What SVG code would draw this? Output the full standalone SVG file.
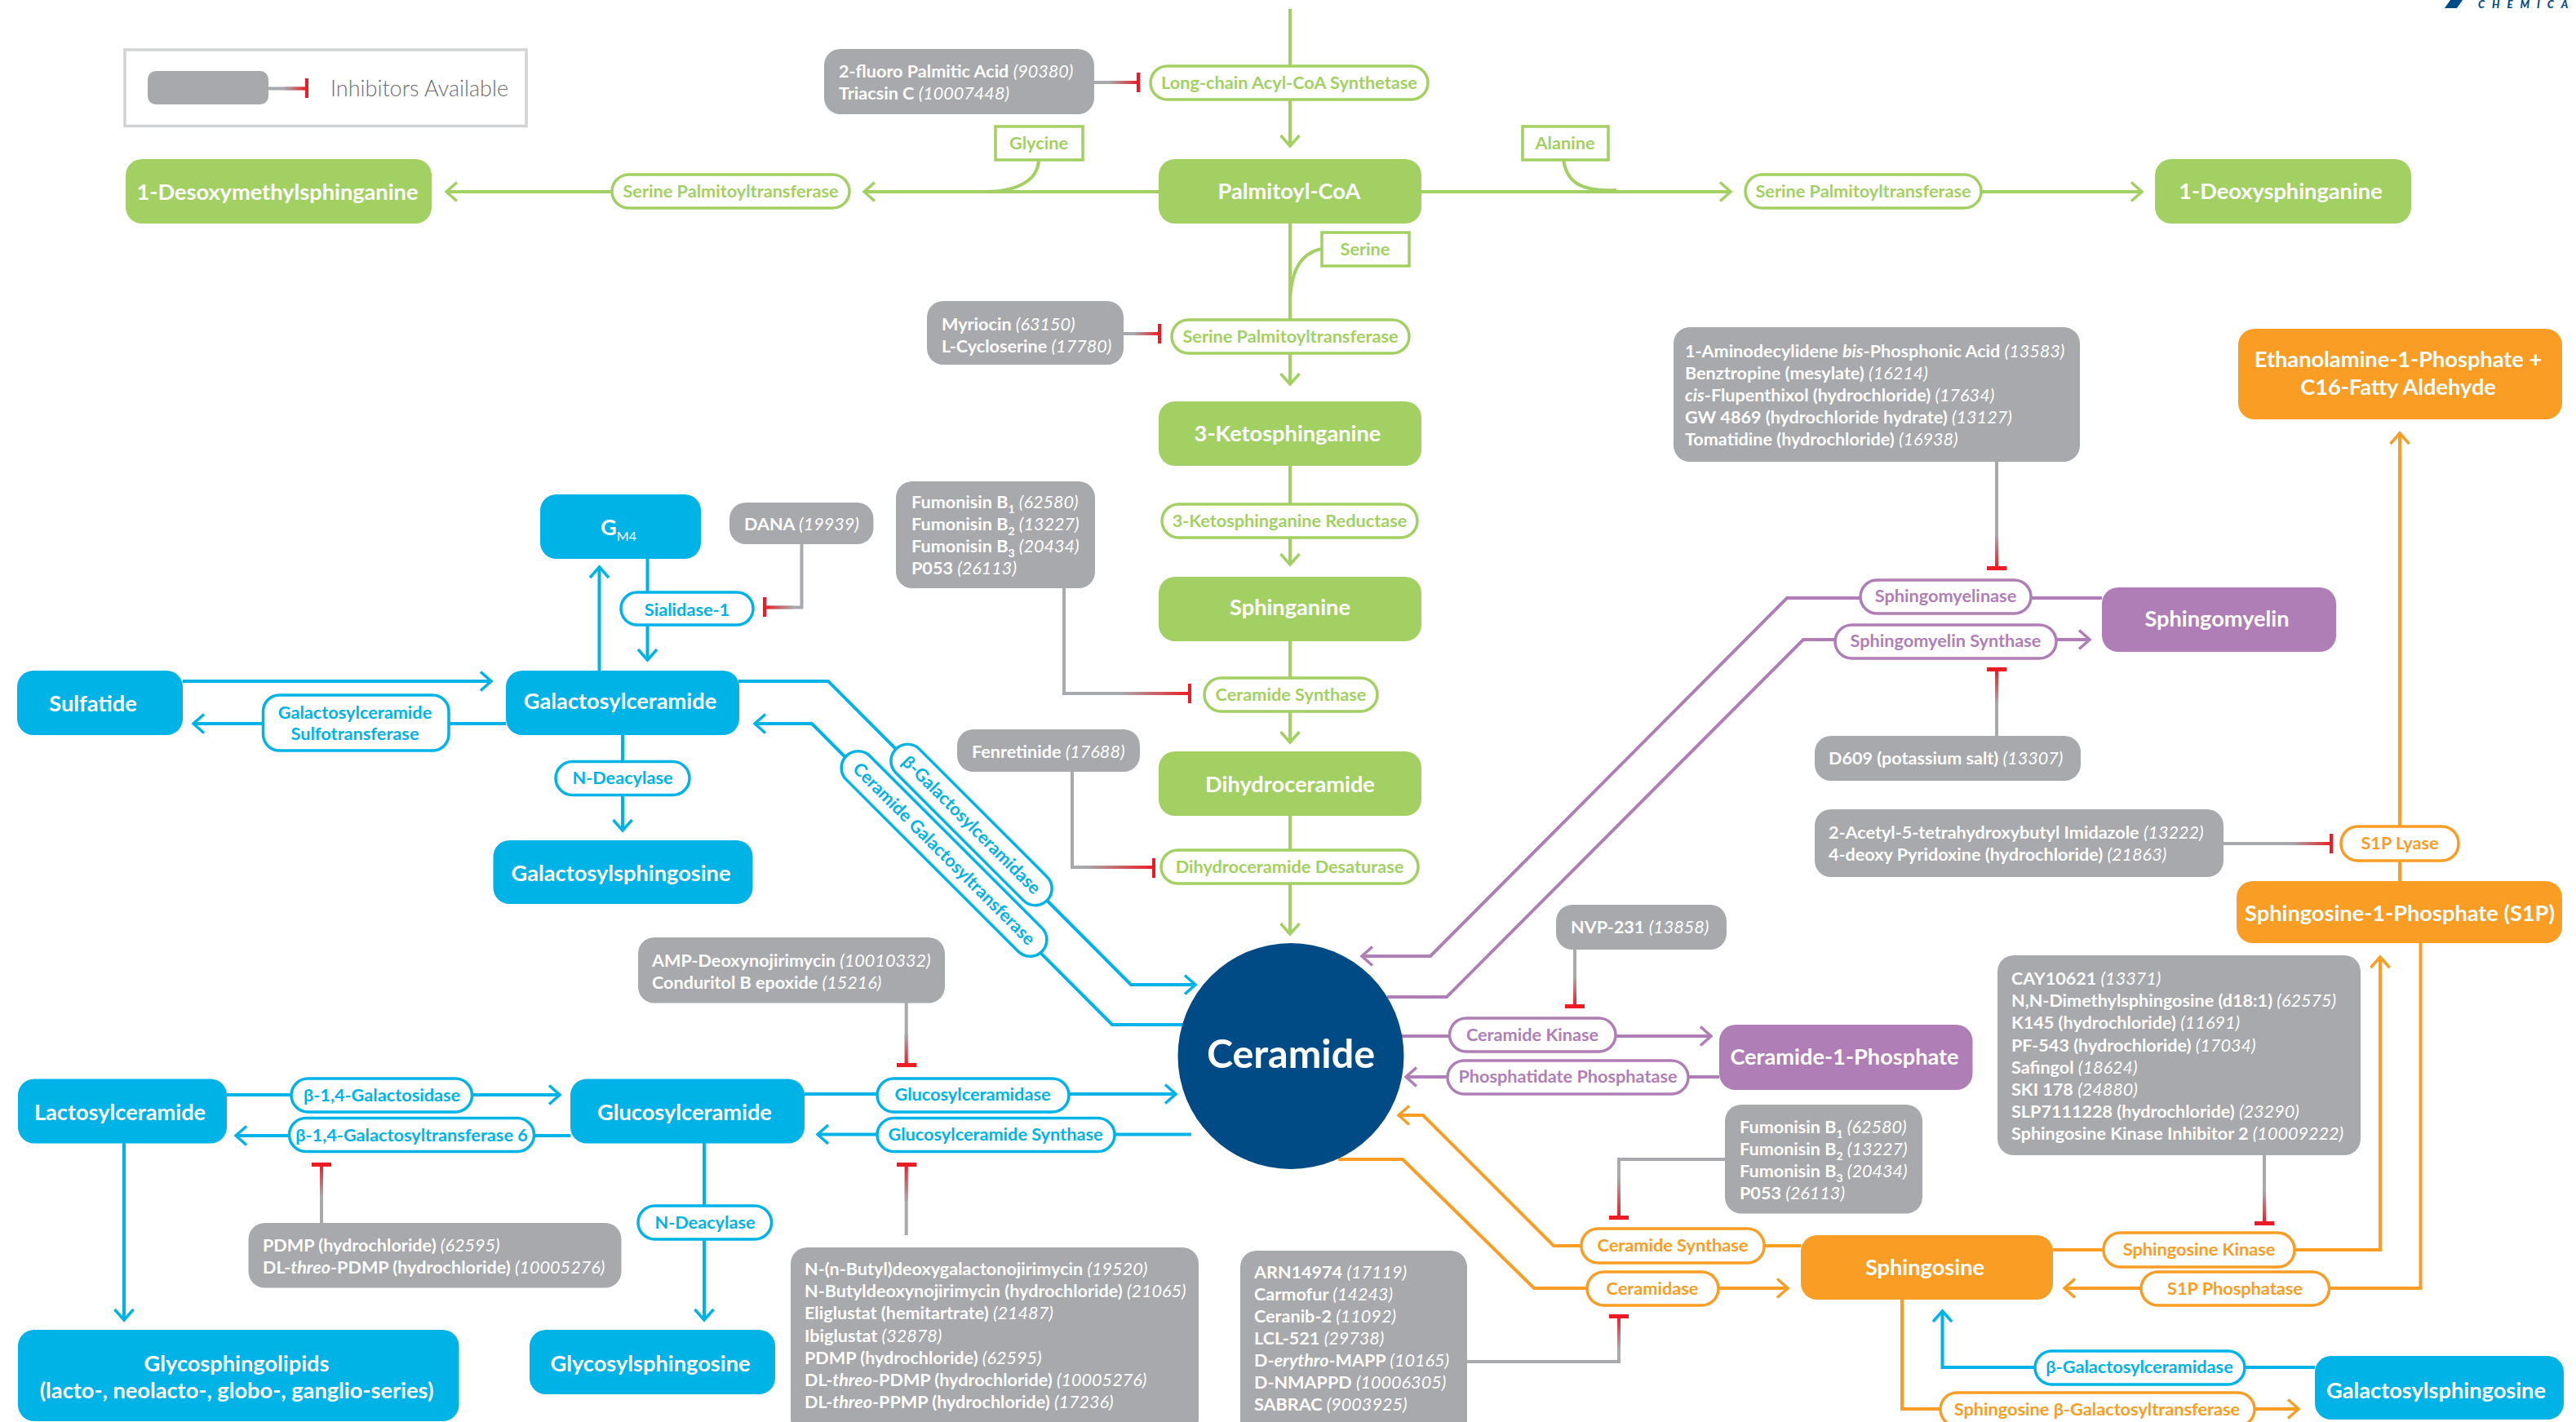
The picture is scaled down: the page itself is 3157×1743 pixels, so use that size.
<svg xmlns="http://www.w3.org/2000/svg" width="3157" height="1743" viewBox="0 0 3157 1743">
<style>
text{font-family:Lato,"Noto Sans",sans-serif}
.n{font-size:27.200px;font-weight:700;fill:#fff;text-anchor:middle}
.i{font-size:21.600px;font-weight:700;fill:#fff}
.i .c,.c{font-weight:400;font-style:italic}
.s{font-size:14px}
.p{font-size:21.700px;font-weight:700;text-anchor:middle}
.P{fill:#fff;stroke-width:3.5}
.gr{fill:#a3d063}.bl{fill:#00b3e6}.or{fill:#f99d25}.pu{fill:#b07eb6}.gy{fill:#a7a9ac}
.tg{fill:#a3d063}.tb{fill:#00b3e6}.to{fill:#f99d25}.tu{fill:#b07eb6}
.Pg{stroke:#a3d063}.Pb{stroke:#00b3e6}.Po{stroke:#f99d25}.Pu{stroke:#b07eb6}
.l{fill:none;stroke-width:4}
.lg{stroke:#a3d063;marker-end:url(#mg)}.lb{stroke:#00b3e6;marker-end:url(#mb)}.lo{stroke:#f99d25;marker-end:url(#mo)}.lu{stroke:#b07eb6;marker-end:url(#mu)}
.x{marker-end:none}
.ih{fill:none;stroke:#a7a9ac;stroke-width:4}
.t{fill:#ed1c24}
</style>
<defs>
<marker id="mg" markerUnits="userSpaceOnUse" markerWidth="30" markerHeight="30" viewBox="-16 -15 20 30" refX="0" refY="0" orient="auto"><path d="M-13,-11.500L0,0L-13,11.500" fill="none" stroke="#a3d063" stroke-width="3.500"/></marker>
<marker id="mb" markerUnits="userSpaceOnUse" markerWidth="30" markerHeight="30" viewBox="-16 -15 20 30" refX="0" refY="0" orient="auto"><path d="M-13,-11.500L0,0L-13,11.500" fill="none" stroke="#00b3e6" stroke-width="3.500"/></marker>
<marker id="mo" markerUnits="userSpaceOnUse" markerWidth="30" markerHeight="30" viewBox="-16 -15 20 30" refX="0" refY="0" orient="auto"><path d="M-13,-11.500L0,0L-13,11.500" fill="none" stroke="#f99d25" stroke-width="3.500"/></marker>
<marker id="mu" markerUnits="userSpaceOnUse" markerWidth="30" markerHeight="30" viewBox="-16 -15 20 30" refX="0" refY="0" orient="auto"><path d="M-13,-11.500L0,0L-13,11.500" fill="none" stroke="#b07eb6" stroke-width="3.500"/></marker>
<linearGradient id="gH" x1="0" x2="1" y1="0" y2="0"><stop offset="0" stop-color="#a7a9ac"/><stop offset="1" stop-color="#ed1c24"/></linearGradient>
<linearGradient id="gL" x1="1" x2="0" y1="0" y2="0"><stop offset="0" stop-color="#a7a9ac"/><stop offset="1" stop-color="#ed1c24"/></linearGradient>
<linearGradient id="gV" x1="0" x2="0" y1="0" y2="1"><stop offset="0" stop-color="#a7a9ac"/><stop offset="1" stop-color="#ed1c24"/></linearGradient>
<linearGradient id="gU" x1="0" x2="0" y1="1" y2="0"><stop offset="0" stop-color="#a7a9ac"/><stop offset="1" stop-color="#ed1c24"/></linearGradient>
</defs>

<g id="connectors">
<g id="green-connectors">
<path class="l lg" d="M1581,11V179"/>
<path class="l lg" d="M1420,235H1059"/>
<path class="l lg" d="M750,235H547"/>
<path class="l lg x" d="M1273,196C1272,222 1245,235 1207,235"/>
<path class="l lg" d="M1742,235H2121"/>
<path class="l lg" d="M2428,235H2625"/>
<path class="l lg x" d="M1916,196C1920,222 1935,235 1981,233"/>
<path class="l lg" d="M1581,274V471"/>
<path class="l lg x" d="M1620,305C1595,310 1581,330 1581,375"/>
<path class="l lg" d="M1581,571V692"/>
<path class="l lg" d="M1581,786V910"/>
<path class="l lg" d="M1581,1000V1145"/>
</g>
<g id="blue-connectors">
<path class="l lb" d="M793.500,685V809"/>
<path class="l lb" d="M734.500,822V695"/>
<path class="l lb" d="M224,835H602"/>
<path class="l lb" d="M620,887H237"/>
<path class="l lb" d="M763,900V1018"/>
<path class="l lb" d="M905,835H1015L1386,1207H1465"/>
<path class="l lb" d="M1450,1256H1363L995,887H925"/>
<path class="l lb" d="M278,1342H686"/>
<path class="l lb" d="M699,1392H289"/>
<path class="l lb" d="M986,1341H1441"/>
<path class="l lb" d="M1460,1390.500H1002"/>
<path class="l lb" d="M152,1401V1618"/>
<path class="l lb" d="M863,1401V1618"/>
<path class="l lb" d="M2837,1676H2380.500V1607"/>
</g>
<g id="purple-connectors">
<path class="l lu" d="M2576,733H2190L1753,1172H1669"/>
<path class="l lu" d="M1700,1222H1773L2210,784H2561"/>
<path class="l lu" d="M1710,1270H2097"/>
<path class="l lu" d="M2107,1320H1723"/>
</g>
<g id="orange-connectors">
<path class="l lo" d="M2207,1527H1904L1744,1367H1714"/>
<path class="l lo" d="M1640,1421H1719L1880,1579H2191"/>
<path class="l lo" d="M2516,1532H2917V1173"/>
<path class="l lo" d="M2966.500,1156V1579H2530"/>
<path class="l lo" d="M2941,1080V531"/>
<path class="l lo" d="M2331,1593V1727H2817"/>
</g>
<g id="inhibitor-connectors">
<path class="ih" d="M329,108.500H376"/><rect x="348" y="106.500" width="28" height="4" fill="url(#gH)"/><rect class="t" x="374" y="96" width="4" height="24"/>
<path class="ih" d="M1341,101H1395"/><rect x="1360" y="99" width="35" height="4" fill="url(#gH)"/><rect class="t" x="1393" y="89" width="4" height="24"/>
<path class="ih" d="M1377,409H1421"/><rect x="1390" y="407" width="31" height="4" fill="url(#gH)"/><rect class="t" x="1419" y="397" width="4" height="24"/>
<path class="ih" d="M982.500,667V744.500H937"/><rect x="937" y="742.500" width="35" height="4" fill="url(#gL)"/><rect class="t" x="935" y="732" width="4" height="24"/>
<path class="ih" d="M1304,720V850H1458"/><rect x="1375" y="848" width="83" height="4" fill="url(#gH)"/><rect class="t" x="1456" y="838" width="4" height="24"/>
<path class="ih" d="M1314,946V1063H1414"/><rect x="1330" y="1061" width="84" height="4" fill="url(#gH)"/><rect class="t" x="1412" y="1052" width="4" height="24"/>
<path class="ih" d="M1110.700,1229V1306"/><rect x="1108.700" y="1268" width="4" height="38" fill="url(#gV)"/><rect class="t" x="1099" y="1303" width="24" height="5"/>
<path class="ih" d="M1110.700,1514V1427"/><rect x="1108.700" y="1427" width="4" height="45" fill="url(#gU)"/><rect class="t" x="1099" y="1425" width="24" height="5"/>
<path class="ih" d="M394,1499V1427"/><rect x="392" y="1427" width="4" height="40" fill="url(#gU)"/><rect class="t" x="382" y="1425" width="24" height="5"/>
<path class="ih" d="M2447,566V697"/><rect x="2445" y="655" width="4" height="42" fill="url(#gV)"/><rect class="t" x="2435" y="694" width="24" height="5"/>
<path class="ih" d="M2447,902V821"/><rect x="2445" y="821" width="4" height="42" fill="url(#gU)"/><rect class="t" x="2435" y="818" width="24" height="5"/>
<path class="ih" d="M2725,1034H2857"/><rect x="2810" y="1032" width="47" height="4" fill="url(#gH)"/><rect class="t" x="2855" y="1022" width="4" height="24"/>
<path class="ih" d="M1930,1164V1233"/><rect x="1928" y="1198" width="4" height="35" fill="url(#gV)"/><rect class="t" x="1918" y="1231" width="24" height="5"/>
<path class="ih" d="M2114,1421H1984V1492"/><rect x="1982" y="1445" width="4" height="47" fill="url(#gV)"/><rect class="t" x="1972" y="1490" width="24" height="5"/>
<path class="ih" d="M1798,1669H1984V1613"/><rect x="1982" y="1613" width="4" height="40" fill="url(#gU)"/><rect class="t" x="1972" y="1611" width="24" height="5"/>
<path class="ih" d="M2775,1416V1499"/><rect x="2773" y="1460" width="4" height="39" fill="url(#gV)"/><rect class="t" x="2763" y="1497" width="24" height="5"/>
</g>
</g>

<g id="legend">
<rect x="153" y="61" width="492" height="93.500" fill="none" stroke="#d1d3d4" stroke-width="3.500"/>
<rect class="gy" x="181" y="87" width="148" height="41" rx="10"/>
<text x="405" y="117.500" font-size="27" font-weight="300" fill="#6d6e71">Inhibitors Available</text>
</g>

<g id="logo">
<path d="M3003,0H3018L3011,10H2996Z" fill="#004b85"/>
<text x="3037" y="10" font-size="13" font-weight="900" font-style="italic" fill="#004b85" letter-spacing="9">CHEMICA</text>
</g>

<g id="n-palmitoyl-coa"><rect class="gr" x="1420" y="195" width="322" height="79" rx="20"/><text class="n" x="1580" y="244">Palmitoyl-CoA</text></g>
<g id="n-desoxymethylsphinganine"><rect class="gr" x="154" y="195" width="375" height="79" rx="20"/><text class="n" x="340" y="245">1-Desoxymethylsphinganine</text></g>
<g id="n-deoxysphinganine"><rect class="gr" x="2641" y="195" width="314" height="79" rx="20"/><text class="n" x="2795" y="244">1-Deoxysphinganine</text></g>
<g id="n-ketosphinganine"><rect class="gr" x="1420" y="492" width="322" height="79" rx="20"/><text class="n" x="1578" y="541">3-Ketosphinganine</text></g>
<g id="n-sphinganine"><rect class="gr" x="1420" y="707" width="322" height="79" rx="20"/><text class="n" x="1581" y="754">Sphinganine</text></g>
<g id="n-dihydroceramide"><rect class="gr" x="1420" y="921" width="322" height="79" rx="20"/><text class="n" x="1581" y="971">Dihydroceramide</text></g>

<g id="n-gm4"><rect class="bl" x="662" y="606" width="197" height="79" rx="20"/><text class="n" x="758" y="656">G<tspan font-size="16" dy="7" font-weight="400">M4</tspan></text></g>
<g id="n-sulfatide"><rect class="bl" x="21" y="822" width="203" height="79" rx="20"/><text class="n" x="114" y="872">Sulfatide</text></g>
<g id="n-galactosylceramide"><rect class="bl" x="620" y="822" width="286" height="79" rx="20"/><text class="n" x="760" y="869">Galactosylceramide</text></g>
<g id="n-galactosylsphingosine-1"><rect class="bl" x="604.500" y="1030" width="318" height="78" rx="20"/><text class="n" x="761" y="1080">Galactosylsphingosine</text></g>
<g id="n-lactosylceramide"><rect class="bl" x="22" y="1322.500" width="256" height="79" rx="20"/><text class="n" x="147" y="1373">Lactosylceramide</text></g>
<g id="n-glucosylceramide"><rect class="bl" x="699" y="1322.500" width="287" height="79" rx="20"/><text class="n" x="839" y="1373">Glucosylceramide</text></g>
<g id="n-glycosphingolipids"><rect class="bl" x="22" y="1630" width="540.500" height="112" rx="20"/><text class="n" x="290" y="1681">Glycosphingolipids<tspan x="290" dy="33">(lacto-, neolacto-, globo-, ganglio-series)</tspan></text></g>
<g id="n-glycosylsphingosine"><rect class="bl" x="649" y="1630" width="301" height="79" rx="20"/><text class="n" x="797" y="1681">Glycosylsphingosine</text></g>
<g id="n-galactosylsphingosine-2"><rect class="bl" x="2837" y="1662" width="305" height="78" rx="20"/><text class="n" x="2985.500" y="1714">Galactosylsphingosine</text></g>

<g id="n-ceramide"><circle cx="1582" cy="1294.500" r="138.500" fill="#004b85"/><text x="1582" y="1309" font-size="48.500" font-weight="700" fill="#fff" text-anchor="middle">Ceramide</text></g>

<g id="n-sphingomyelin"><rect class="pu" x="2576" y="720" width="287" height="79" rx="20"/><text class="n" x="2717" y="768">Sphingomyelin</text></g>
<g id="n-ceramide-1-phosphate"><rect class="pu" x="2107" y="1256" width="310.500" height="80" rx="20"/><text class="n" x="2260.500" y="1305">Ceramide-1-Phosphate</text></g>

<g id="n-ethanolamine"><rect class="or" x="2743" y="403" width="397" height="111" rx="20"/><text class="n" x="2939" y="450">Ethanolamine-1-Phosphate +<tspan x="2939" dy="33.500">C16-Fatty Aldehyde</tspan></text></g>
<g id="n-s1p"><rect class="or" x="2741" y="1080" width="399" height="76" rx="20"/><text class="n" x="2941" y="1129">Sphingosine-1-Phosphate (S1P)</text></g>
<g id="n-sphingosine"><rect class="or" x="2207" y="1514" width="309" height="79" rx="20"/><text class="n" x="2359" y="1563">Sphingosine</text></g>

<g id="e-lcacs"><rect class="P Pg" x="1410" y="81" width="340" height="41" rx="20.500"/><text class="p tg" x="1580" y="109">Long-chain Acyl-CoA Synthetase</text></g>
<g id="e-spt-1"><rect class="P Pg" x="750" y="214" width="291" height="41" rx="20.500"/><text class="p tg" x="895.500" y="242">Serine Palmitoyltransferase</text></g>
<g id="e-spt-2"><rect class="P Pg" x="2139" y="214" width="289" height="41" rx="20.500"/><text class="p tg" x="2283.500" y="242">Serine Palmitoyltransferase</text></g>
<g id="e-spt-3"><rect class="P Pg" x="1436" y="392" width="291" height="41" rx="20.500"/><text class="p tg" x="1581.500" y="420">Serine Palmitoyltransferase</text></g>
<g id="e-ksr"><rect class="P Pg" x="1424" y="618" width="313" height="41" rx="20.500"/><text class="p tg" x="1580.500" y="646">3-Ketosphinganine Reductase</text></g>
<g id="e-cers-1"><rect class="P Pg" x="1476" y="831" width="212" height="41" rx="20.500"/><text class="p tg" x="1582" y="859">Ceramide Synthase</text></g>
<g id="e-des"><rect class="P Pg" x="1423" y="1042" width="315" height="41" rx="20.500"/><text class="p tg" x="1580.500" y="1070">Dihydroceramide Desaturase</text></g>
<g id="m-glycine"><rect fill="#fff" stroke="#a3d063" stroke-width="3.500" x="1220" y="155" width="107" height="41"/><text class="p tg" x="1273" y="183">Glycine</text></g>
<g id="m-alanine"><rect fill="#fff" stroke="#a3d063" stroke-width="3.500" x="1866" y="155" width="105" height="41"/><text class="p tg" x="1918" y="183">Alanine</text></g>
<g id="m-serine"><rect fill="#fff" stroke="#a3d063" stroke-width="3.500" x="1620" y="285" width="107" height="41"/><text class="p tg" x="1673" y="313">Serine</text></g>

<g id="e-sialidase"><rect class="P Pb" x="761" y="726" width="162" height="40" rx="20"/><text class="p tb" x="842" y="755">Sialidase-1</text></g>
<g id="e-galcer-sulfo"><rect class="P Pb" x="322.500" y="852" width="227.500" height="68" rx="20"/><text class="p tb" x="435" y="881">Galactosylceramide<tspan x="435" dy="26">Sulfotransferase</tspan></text></g>
<g id="e-ndeacylase-1"><rect class="P Pb" x="681" y="933.500" width="164" height="41" rx="20.500"/><text class="p tb" x="763" y="961">N-Deacylase</text></g>
<g id="e-bgalcerase-1" transform="rotate(45 1190.500 1011)"><rect class="P Pb" x="1059.500" y="990.500" width="262" height="41" rx="20.500"/><text class="p tb" x="1190.500" y="1018.500">β-Galactosylceramidase</text></g>
<g id="e-cgt" transform="rotate(45 1157 1046.500)"><rect class="P Pb" x="987.500" y="1026" width="339" height="41" rx="20.500"/><text class="p tb" x="1157" y="1054">Ceramide Galactosyltransferase</text></g>
<g id="e-gal"><rect class="P Pb" x="357" y="1322" width="221.500" height="41" rx="20.500"/><text class="p tb" x="468" y="1350">β-1,4-Galactosidase</text></g>
<g id="e-gt6"><rect class="P Pb" x="354.500" y="1370.500" width="300" height="41" rx="20.500"/><text class="p tb" x="504.500" y="1398.500">β-1,4-Galactosyltransferase 6</text></g>
<g id="e-gcase"><rect class="P Pb" x="1075" y="1322" width="235" height="41" rx="20.500"/><text class="p tb" x="1192" y="1349">Glucosylceramidase</text></g>
<g id="e-gcs"><rect class="P Pb" x="1075" y="1370.500" width="291" height="41" rx="20.500"/><text class="p tb" x="1220" y="1398">Glucosylceramide Synthase</text></g>
<g id="e-ndeacylase-2"><rect class="P Pb" x="782" y="1478" width="163.500" height="41" rx="20.500"/><text class="p tb" x="864" y="1506">N-Deacylase</text></g>
<g id="e-bgalcerase-2"><rect class="P Pb" x="2494" y="1656" width="257" height="41" rx="20.500"/><text class="p tb" x="2622" y="1683">β-Galactosylceramidase</text></g>

<g id="e-smase"><rect class="P Pu" x="2280" y="711" width="209" height="41" rx="20.500"/><text class="p tu" x="2384.500" y="738">Sphingomyelinase</text></g>
<g id="e-sms"><rect class="P Pu" x="2249" y="766" width="271" height="41" rx="20.500"/><text class="p tu" x="2384.500" y="793">Sphingomyelin Synthase</text></g>
<g id="e-cerk"><rect class="P Pu" x="1776.500" y="1248" width="203.500" height="41" rx="20.500"/><text class="p tu" x="1878" y="1276">Ceramide Kinase</text></g>
<g id="e-pap"><rect class="P Pu" x="1774" y="1300" width="295" height="41" rx="20.500"/><text class="p tu" x="1921.500" y="1327">Phosphatidate Phosphatase</text></g>

<g id="e-s1pl"><rect class="P Po" x="2869" y="1013" width="144" height="42" rx="20.500"/><text class="p to" x="2941" y="1041">S1P Lyase</text></g>
<g id="e-cers-2"><rect class="P Po" x="1938" y="1506" width="224" height="42" rx="20.500"/><text class="p to" x="2050" y="1534">Ceramide Synthase</text></g>
<g id="e-cdase"><rect class="P Po" x="1945" y="1559" width="161" height="41" rx="20.500"/><text class="p to" x="2025" y="1587">Ceramidase</text></g>
<g id="e-sphk"><rect class="P Po" x="2578" y="1511" width="234" height="42" rx="20.500"/><text class="p to" x="2695" y="1539">Sphingosine Kinase</text></g>
<g id="e-s1pp"><rect class="P Po" x="2624" y="1559" width="230.500" height="41" rx="20.500"/><text class="p to" x="2739" y="1587">S1P Phosphatase</text></g>
<g id="e-sgt"><rect class="P Po" x="2378" y="1707" width="385" height="41" rx="20.500"/><text class="p to" x="2570" y="1735">Sphingosine β-Galactosyltransferase</text></g>

<g id="i-fluoro"><rect class="gy" x="1010" y="60" width="331" height="80" rx="20"/><text class="i" x="1028" y="95">2-fluoro Palmitic Acid <tspan class="c">(90380)</tspan><tspan x="1028" dy="27">Triacsin C </tspan><tspan class="c">(10007448)</tspan></text></g>
<g id="i-myriocin"><rect class="gy" x="1136" y="369" width="241" height="78" rx="20"/><text class="i" x="1154" y="405">Myriocin <tspan class="c">(63150)</tspan><tspan x="1154" dy="27">L-Cycloserine </tspan><tspan class="c">(17780)</tspan></text></g>
<g id="i-dana"><rect class="gy" x="894" y="616" width="176.500" height="51" rx="20"/><text class="i" x="912" y="650">DANA <tspan class="c">(19939)</tspan></text></g>
<g id="i-fumonisin-1"><rect class="gy" x="1098" y="590" width="244" height="131" rx="20"/><text class="i" x="1117" y="623">Fumonisin B<tspan class="s" dy="6">1</tspan><tspan dy="-6"> </tspan><tspan class="c">(62580)</tspan><tspan x="1117" dy="27">Fumonisin B</tspan><tspan class="s" dy="6">2</tspan><tspan dy="-6"> </tspan><tspan class="c">(13227)</tspan><tspan x="1117" dy="27">Fumonisin B</tspan><tspan class="s" dy="6">3</tspan><tspan dy="-6"> </tspan><tspan class="c">(20434)</tspan><tspan x="1117" dy="27">P053 </tspan><tspan class="c">(26113)</tspan></text></g>
<g id="i-fenretinide"><rect class="gy" x="1173" y="894" width="224" height="52" rx="20"/><text class="i" x="1191" y="929">Fenretinide <tspan class="c">(17688)</tspan></text></g>
<g id="i-amino"><rect class="gy" x="2051" y="401" width="498" height="165" rx="20"/><text class="i" x="2065" y="437.500">1-Aminodecylidene <tspan font-style="italic">bis</tspan>-Phosphonic Acid <tspan class="c">(13583)</tspan><tspan x="2065" dy="27">Benztropine (mesylate) </tspan><tspan class="c">(16214)</tspan><tspan x="2065" dy="27" font-style="italic">cis</tspan>-Flupenthixol (hydrochloride) <tspan class="c">(17634)</tspan><tspan x="2065" dy="27">GW 4869 (hydrochloride hydrate) </tspan><tspan class="c">(13127)</tspan><tspan x="2065" dy="27">Tomatidine (hydrochloride) </tspan><tspan class="c">(16938)</tspan></text></g>
<g id="i-d609"><rect class="gy" x="2224" y="902" width="326" height="55" rx="20"/><text class="i" x="2241" y="937">D609 (potassium salt) <tspan class="c">(13307)</tspan></text></g>
<g id="i-acetyl"><rect class="gy" x="2224" y="992" width="501" height="83" rx="20"/><text class="i" x="2241" y="1028">2-Acetyl-5-tetrahydroxybutyl Imidazole <tspan class="c">(13222)</tspan><tspan x="2241" dy="27">4-deoxy Pyridoxine (hydrochloride) </tspan><tspan class="c">(21863)</tspan></text></g>
<g id="i-nvp"><rect class="gy" x="1907" y="1109" width="209" height="55" rx="20"/><text class="i" x="1925" y="1144">NVP-231 <tspan class="c">(13858)</tspan></text></g>
<g id="i-amp"><rect class="gy" x="782" y="1149" width="376" height="80.500" rx="20"/><text class="i" x="799" y="1184.500">AMP-Deoxynojirimycin <tspan class="c">(10010332)</tspan><tspan x="799" dy="27">Conduritol B epoxide </tspan><tspan class="c">(15216)</tspan></text></g>
<g id="i-pdmp"><rect class="gy" x="304.500" y="1499" width="457" height="79.500" rx="20"/><text class="i" x="322" y="1533.500">PDMP (hydrochloride) <tspan class="c">(62595)</tspan><tspan x="322" dy="27">DL-</tspan><tspan font-style="italic">threo</tspan>-PDMP (hydrochloride) <tspan class="c">(10005276)</tspan></text></g>
<g id="i-gcs"><rect class="gy" x="969" y="1529" width="500" height="230" rx="20"/><text class="i" x="986" y="1563">N-(n-Butyl)deoxygalactonojirimycin <tspan class="c">(19520)</tspan><tspan x="986" dy="27.200">N-Butyldeoxynojirimycin (hydrochloride) </tspan><tspan class="c">(21065)</tspan><tspan x="986" dy="27.200">Eliglustat (hemitartrate) </tspan><tspan class="c">(21487)</tspan><tspan x="986" dy="27.200">Ibiglustat </tspan><tspan class="c">(32878)</tspan><tspan x="986" dy="27.200">PDMP (hydrochloride) </tspan><tspan class="c">(62595)</tspan><tspan x="986" dy="27.200">DL-</tspan><tspan font-style="italic">threo</tspan>-PDMP (hydrochloride) <tspan class="c">(10005276)</tspan><tspan x="986" dy="27.200">DL-</tspan><tspan font-style="italic">threo</tspan>-PPMP (hydrochloride) <tspan class="c">(17236)</tspan></text></g>
<g id="i-arn"><rect class="gy" x="1520" y="1533" width="278" height="230" rx="20"/><text class="i" x="1537" y="1566.500">ARN14974 <tspan class="c">(17119)</tspan><tspan x="1537" dy="27">Carmofur </tspan><tspan class="c">(14243)</tspan><tspan x="1537" dy="27">Ceranib-2 </tspan><tspan class="c">(11092)</tspan><tspan x="1537" dy="27">LCL-521 </tspan><tspan class="c">(29738)</tspan><tspan x="1537" dy="27">D-</tspan><tspan font-style="italic">erythro</tspan>-MAPP <tspan class="c">(10165)</tspan><tspan x="1537" dy="27">D-NMAPPD </tspan><tspan class="c">(10006305)</tspan><tspan x="1537" dy="27">SABRAC </tspan><tspan class="c">(9003925)</tspan></text></g>
<g id="i-fumonisin-2"><rect class="gy" x="2114" y="1354" width="242" height="133.500" rx="20"/><text class="i" x="2132" y="1389">Fumonisin B<tspan class="s" dy="6">1</tspan><tspan dy="-6"> </tspan><tspan class="c">(62580)</tspan><tspan x="2132" dy="27">Fumonisin B</tspan><tspan class="s" dy="6">2</tspan><tspan dy="-6"> </tspan><tspan class="c">(13227)</tspan><tspan x="2132" dy="27">Fumonisin B</tspan><tspan class="s" dy="6">3</tspan><tspan dy="-6"> </tspan><tspan class="c">(20434)</tspan><tspan x="2132" dy="27">P053 </tspan><tspan class="c">(26113)</tspan></text></g>
<g id="i-cay"><rect class="gy" x="2448" y="1171" width="445" height="245" rx="20"/><text class="i" x="2465" y="1207">CAY10621 <tspan class="c">(13371)</tspan><tspan x="2465" dy="27.200">N,N-Dimethylsphingosine (d18:1) </tspan><tspan class="c">(62575)</tspan><tspan x="2465" dy="27.200">K145 (hydrochloride) </tspan><tspan class="c">(11691)</tspan><tspan x="2465" dy="27.200">PF-543 (hydrochloride) </tspan><tspan class="c">(17034)</tspan><tspan x="2465" dy="27.200">Safingol </tspan><tspan class="c">(18624)</tspan><tspan x="2465" dy="27.200">SKI 178 </tspan><tspan class="c">(24880)</tspan><tspan x="2465" dy="27.200">SLP7111228 (hydrochloride) </tspan><tspan class="c">(23290)</tspan><tspan x="2465" dy="27.200">Sphingosine Kinase Inhibitor 2 </tspan><tspan class="c">(10009222)</tspan></text></g>
</svg>
